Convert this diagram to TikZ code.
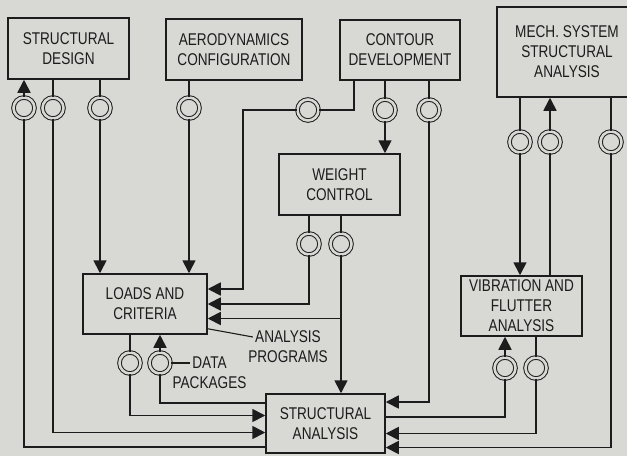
\documentclass[tikz,border=0pt]{standalone}
\usepackage{fontspec}
\setmainfont{Liberation Sans}[FakeStretch=0.8]
\usetikzlibrary{arrows.meta,positioning}

\definecolor{paper}{RGB}{216,216,213}
\definecolor{ink}{RGB}{28,28,28}

\begin{document}
\begin{tikzpicture}[
  x=1pt, y=-1pt, color=ink, line width=1.7pt,
  flow/.style = {-{Triangle[length=13pt,width=13pt]}},
  box/.style  = {draw, line width=1.5pt, align=center, inner sep=0pt,
                 font=\fontsize{17}{20}\selectfont},
  port/.style = {circle, draw, line width=1pt, double=paper,
                 double distance=2.6pt, minimum size=21pt, inner sep=0pt},
  lbl/.style  = {font=\fontsize{17}{20}\selectfont, inner sep=1.5pt},
]
\useasboundingbox (0,0) rectangle (627,456);
\fill[paper] (0,0) rectangle (627,456);

%% ---- boxes ---------------------------------------------------------------
\node[box, minimum width=121pt, minimum height=61pt] (sd)   at (68.5,48.5)  {STRUCTURAL\\DESIGN};
\node[box, minimum width=136pt, minimum height=61pt] (aero) at (234,49.5)   {AERODYNAMICS\\CONFIGURATION};
\node[box, minimum width=120pt, minimum height=60pt] (ct)   at (400,50)     {CONTOUR\\DEVELOPMENT};
\node[box, minimum width=140pt, minimum height=90pt] (mech) at (567,52)     {MECH. SYSTEM\\STRUCTURAL\\ANALYSIS};
\node[box, minimum width=121pt, minimum height=61pt] (wc)   at (339.5,184.5) {WEIGHT\\CONTROL};
\node[box, minimum width=124pt, minimum height=60pt] (lc)   at (145,304)    {LOADS AND\\CRITERIA};
\node[box, minimum width=121pt, minimum height=60pt] (vf)   at (521.5,306)  {VIBRATION AND\\FLUTTER\\ANALYSIS};
\node[box, minimum width=119pt, minimum height=59pt] (sa)   at (325.5,423.5) {STRUCTURAL\\ANALYSIS};

%% ---- data ports ----------------------------------------------------------
\node[port] (sdA)   at (24,108)  {};
\node[port] (sdB)   at (53,108)  {};
\node[port] (sdC)   at (100,108) {};
\node[port] (aeroA) at (189,108) {};
\node[port] (ctA)   at (308,110) {};
\node[port] (ctB)   at (385,110) {};
\node[port] (ctC)   at (429,110) {};
\node[port] (mechA) at (520,142) {};
\node[port] (mechB) at (550,142) {};
\node[port] (mechC) at (611,142) {};
\node[port] (wcA)   at (309,244) {};
\node[port] (wcB)   at (341,244) {};
\node[port] (lcA)   at (130,363) {};
\node[port] (lcB)   at (160,363) {};
\node[port] (vfA)   at (505,368) {};
\node[port] (vfB)   at (536,368) {};

% entry levels on the box sides
\coordinate (lcE1) at ([yshift=15pt]lc.east);
\coordinate (lcE2) at (lc.east);
\coordinate (lcE3) at ([yshift=-14.5pt]lc.east);
\coordinate (saW1) at ([yshift=20.5pt]sa.west);
\coordinate (saW2) at ([yshift=8pt]sa.west);
\coordinate (saW3) at ([yshift=-9pt]sa.west);
\coordinate (saW4) at ([yshift=-23.5pt]sa.west);
\coordinate (saE1) at ([yshift=21.5pt]sa.east);
\coordinate (saE2) at ([yshift=6.5pt]sa.east);
\coordinate (saE3) at ([yshift=-10pt]sa.east);
\coordinate (saE4) at ([yshift=-24pt]sa.east);

%% ---- structural design / aerodynamics ------------------------------------
\draw[flow] (sdA) -- (sdA |- sd.south);
\draw (sdA) |- (saW4);
\draw (sd.south -| sdB) -- (sdB);
\draw[flow] (sdB) |- (saW3);
\draw (sd.south -| sdC) -- (sdC);
\draw[flow] (sdC) -- (sdC |- lc.north);
\draw (aero.south -| aeroA) -- (aeroA);
\draw[flow] (aeroA) -- (aeroA |- lc.north);

%% ---- contour development -------------------------------------------------
\draw ([xshift=-46pt]ct.south) |- (ctA);
\draw[flow] (ctA) -| ([xshift=35pt]lcE1) -- (lcE1);
\draw (ct.south -| ctB) -- (ctB);
\draw[flow] (ctB) -- (ctB |- wc.north);
\draw (ct.south -| ctC) -- (ctC);
\draw[flow] (ctC) |- (saE1);

%% ---- weight control ------------------------------------------------------
\draw (wc.south -| wcA) -- (wcA);
\draw[flow] (wcA) |- (lcE2);
\draw (wc.south -| wcB) -- (wcB);
\draw[flow] (wcB) -- (wcB |- sa.north);
\draw[flow] (wcB |- lcE3) -- (lcE3);

%% ---- mech. system / vibration --------------------------------------------
\draw (mech.south -| mechA) -- (mechA);
\draw[flow] (mechA) -- (mechA |- vf.north);
\draw[flow] (mechB) -- (mechB |- mech.south);
\draw (mechB) -- (mechB |- vf.north);
\draw (mech.south -| mechC) -- (mechC);
\draw[flow] (mechC) |- (saE4);
\draw[flow] (vfA) -- (vfA |- vf.south);
\draw (vfA) |- (saE2);
\draw (vf.south -| vfB) -- (vfB);
\draw[flow] (vfB) |- (saE3);

%% ---- loads and criteria --------------------------------------------------
\draw (lc.south -| lcA) -- (lcA);
\draw[flow] (lcA) |- (saW2);
\draw[flow] (lcB) -- (lcB |- lc.south);
\draw (lcB) |- (saW1);

%% ---- labels --------------------------------------------------------------
\node[lbl] (progA) at (288,337) {ANALYSIS};
\node[lbl] (progB) at (288,357) {PROGRAMS};
\draw[line width=1.1pt] ([yshift=6pt]lc.south east) -- (progA.west);
\node[lbl] (dataA) at (209.5,363) {DATA};
\node[lbl] (dataB) at (209.5,383) {PACKAGES};
\draw[line width=1.1pt] (lcB) -- (dataA);

\end{tikzpicture}
\end{document}
